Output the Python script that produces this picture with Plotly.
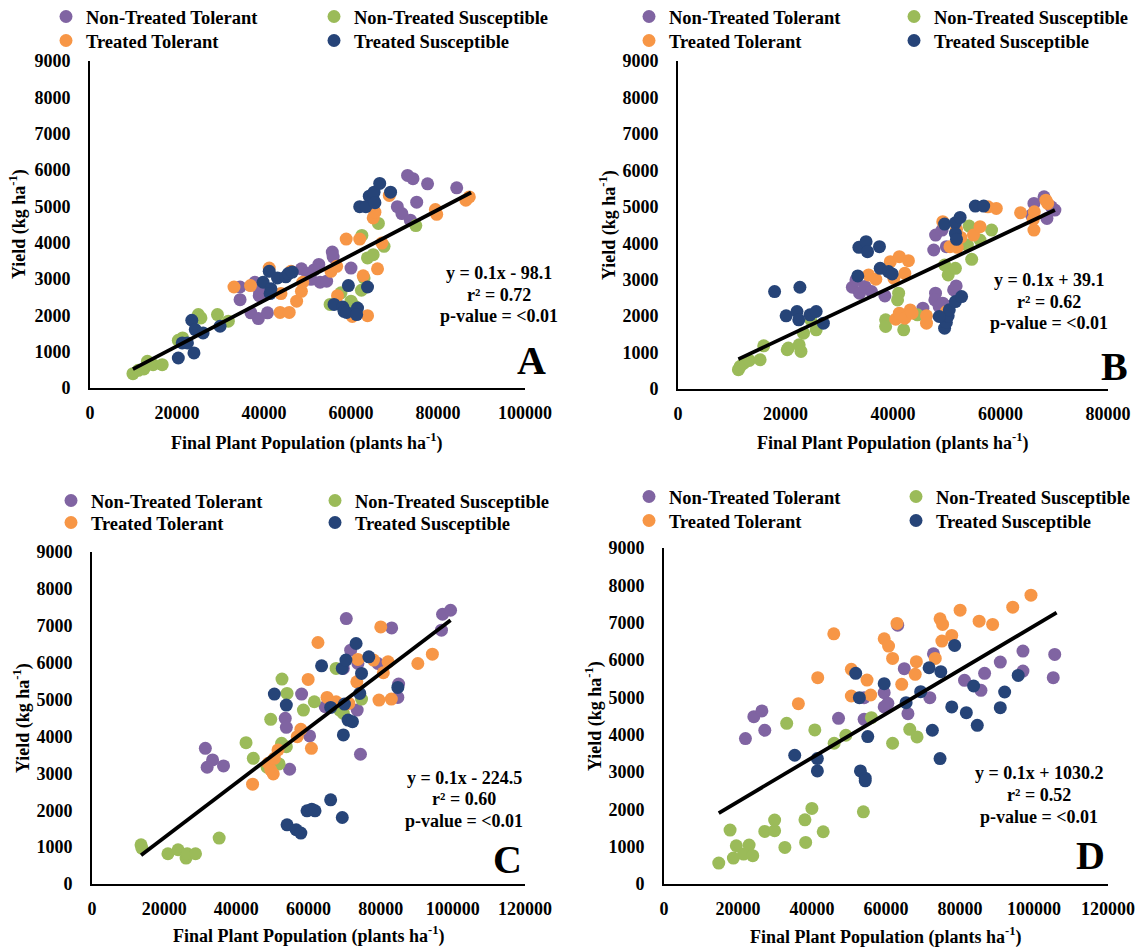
import plotly.graph_objects as go

W, H = 1135, 951

# ---------------- DATA ----------------
series_names = ["Non-Treated Tolerant", "Non-Treated Susceptible", "Treated Tolerant", "Treated Susceptible"]
series_colors = ["#8064A2", "#9BBB59", "#F79646", "#264478"]

# Panel A
A_ntt_x = [73000, 74250, 77600, 84300, 75100, 70650, 71700, 73650, 55700, 55900, 60000, 52600, 52900, 54400, 50800, 48600, 34500, 34500, 37900, 38900, 37000, 38700, 40800, 39000, 50000, 51500]
A_ntt_y = [5850, 5760, 5620, 5510, 5115, 4990, 4800, 4620, 3740, 3610, 3300, 3400, 2910, 2940, 2990, 3280, 2780, 2430, 2910, 2540, 2070, 1910, 2070, 2650, 3150, 3250]
A_nts_x = [9870, 11100, 12400, 13200, 14500, 16600, 20300, 21300, 24900, 25500, 29300, 31800, 55200, 57700, 60000, 60900, 62500, 63800, 65100, 66300, 67600, 74900, 62400, 63000]
A_nts_y = [395, 487, 523, 735, 643, 643, 1313, 1377, 2020, 1930, 2020, 1840, 2300, 2620, 2390, 2250, 4200, 3580, 3670, 4530, 3900, 4470, 2690, 3030]
A_tt_x = [33100, 36900, 41200, 43900, 43700, 45800, 47500, 48600, 48900, 46200, 55400, 56700, 56900, 58900, 62000, 60300, 63800, 62800, 66100, 65100, 65500, 67100, 68800, 79400, 79700, 86400, 87200]
A_tt_y = [2780, 2820, 3300, 2600, 2080, 2080, 2390, 2660, 2910, 3210, 3210, 3350, 2540, 4100, 4100, 1970, 1990, 3090, 3280, 4680, 4840, 3990, 5300, 4910, 4780, 5170, 5260]
A_ts_x = [20300, 23900, 21200, 22400, 23400, 24200, 26000, 29900, 39800, 41200, 41600, 41400, 43100, 45000, 45600, 46500, 59400, 56100, 58100, 58400, 59000, 61500, 61300, 63800, 62000, 63400, 64200, 65100, 65300, 65500, 66600, 69100]
A_ts_y = [826, 964, 1240, 1240, 1864, 1607, 1515, 1700, 2910, 3210, 2730, 2600, 3030, 3060, 3150, 3190, 2820, 2300, 2230, 2110, 2080, 2200, 2020, 2780, 4990, 4990, 5280, 5210, 5390, 5100, 5630, 5390]
A_trend_x = [9870, 87600]
A_trend_y = [520, 5380]

# Panel B
B_ntt_x = [32440, 33110, 33780, 34790, 36000, 38490, 47580, 47930, 49130, 49930, 47910, 47780, 48590, 49260, 50270, 45560, 51280, 51750, 66220, 68100, 68640, 69450, 70120, 65750]
B_ntt_y = [2792, 2993, 2628, 2810, 2673, 2555, 3814, 4224, 4361, 3905, 2628, 2445, 2263, 2354, 2263, 2217, 2719, 2829, 5091, 5274, 4680, 5000, 4909, 4772]
B_nts_x = [11240, 11570, 12250, 13260, 15280, 15950, 20320, 20530, 22540, 22880, 23350, 25710, 24700, 38630, 38630, 41050, 40850, 41990, 44550, 49600, 50270, 51610, 53840, 54170, 54640, 56190, 58340]
B_nts_y = [530, 620, 710, 785, 803, 1186, 1077, 1122, 1213, 1031, 1533, 1624, 1900, 1898, 1715, 2628, 2445, 1624, 2035, 3403, 3130, 3312, 3950, 4470, 3558, 4088, 4361]
B_tt_x = [35460, 36810, 39500, 40170, 41180, 42870, 42200, 40510, 41180, 42190, 43200, 43540, 46230, 46230, 49260, 50600, 51810, 51950, 52620, 54980, 56190, 57670, 59220, 63730, 66080, 66220, 66290, 68440, 68780, 49930]
B_tt_y = [3130, 3011, 3495, 3038, 3631, 3522, 3175, 1916, 2080, 1943, 2170, 2080, 2007, 1807, 4590, 3905, 4380, 3887, 4160, 4224, 4453, 5000, 4954, 4836, 4653, 4361, 4863, 5182, 5091, 2126]
B_ts_x = [17970, 22680, 20120, 22140, 22470, 24560, 25710, 27050, 33450, 33650, 34990, 35260, 37480, 37620, 39170, 39840, 49600, 51610, 52490, 51610, 51810, 49600, 49930, 50270, 50470, 48590, 51610, 52760, 55320, 56870]
B_ts_y = [2673, 2792, 2007, 2126, 1898, 2035, 2126, 1807, 3102, 3887, 4042, 3768, 3905, 3312, 3221, 3157, 4526, 4562, 4708, 4270, 4106, 1670, 1825, 2007, 2172, 1989, 2400, 2537, 5018, 5018]
B_trend_x = [11240, 70120]
B_trend_y = [820, 4910]

# Panel C
C_ntt_x = [31410, 33420, 31910, 36440, 53560, 53860, 54770, 58090, 60300, 70470, 69660, 71680, 73690, 73490, 74400, 79230, 83050, 84970, 84760, 96850, 97150, 99370, 64630]
C_ntt_y = [3679, 3363, 3165, 3201, 4491, 4247, 3111, 5149, 4013, 7196, 5843, 6339, 5978, 4716, 3517, 5978, 6943, 5419, 5059, 6880, 7313, 7421, 4806]
C_nts_x = [13590, 13800, 21040, 23860, 26070, 26380, 28690, 35240, 42690, 44700, 49530, 48530, 51850, 52550, 52650, 54060, 53860, 58590, 61610, 67650, 68650, 69660, 74700]
C_nts_y = [1064, 974, 820, 929, 703, 820, 820, 1244, 3832, 3408, 4463, 3165, 3255, 3814, 5554, 5167, 3724, 4716, 4941, 5843, 4716, 4626, 5013]
C_tt_x = [44500, 48830, 49530, 50240, 50540, 51550, 56880, 57880, 60810, 59900, 62620, 65140, 67650, 71180, 73390, 73690, 78020, 80030, 80740, 82050, 79530, 82950, 90300, 94330]
C_tt_y = [2705, 3273, 3093, 2985, 3408, 3634, 3995, 4193, 3679, 5545, 6547, 5059, 4941, 4896, 5482, 6087, 6069, 6970, 5726, 6024, 4986, 5013, 5978, 6231]
C_ts_x = [50540, 53860, 54060, 56580, 57880, 59590, 60900, 61810, 66140, 69360, 63630, 66140, 69660, 69360, 70370, 69960, 70970, 72180, 73190, 74200, 74700, 76710, 84760]
C_ts_y = [5149, 4851, 1605, 1470, 1380, 1984, 2029, 1984, 2281, 1803, 5915, 4788, 4040, 5843, 6069, 4878, 4445, 4400, 6519, 5167, 5708, 6159, 5329]
C_trend_x = [13590, 99370]
C_trend_y = [780, 7150]

# Panel D
D_ntt_x = [22010, 24280, 26450, 27240, 47170, 54080, 54080, 59510, 59510, 60500, 63160, 64940, 65930, 71850, 72830, 81220, 85660, 86650, 90890, 97010, 97010, 105200, 105600]
D_ntt_y = [3895, 4483, 4635, 4118, 4439, 4412, 4991, 5125, 4742, 4840, 6934, 5767, 4563, 4991, 6168, 5455, 5187, 5642, 5945, 5704, 6239, 5526, 6150]
D_nts_x = [14800, 17860, 18750, 19540, 21510, 23000, 23980, 27240, 29900, 29900, 32670, 33160, 38090, 38290, 39970, 40760, 43030, 45990, 49150, 53880, 56050, 61780, 66420, 68390]
D_nts_y = [561, 1444, 695, 1025, 802, 1043, 758, 1408, 1426, 1711, 980, 4305, 1720, 1114, 2023, 4127, 1399, 3770, 3984, 1934, 4456, 3770, 4144, 3939]
D_tt_x = [36320, 41550, 45890, 50630, 50630, 54870, 55860, 59510, 60690, 61780, 62970, 64250, 67900, 68200, 73320, 74610, 75300, 75100, 77770, 80030, 85170, 88820, 94250, 99180]
D_tt_y = [4831, 5526, 6702, 5749, 5036, 5463, 5062, 6569, 6373, 6043, 6979, 5348, 5615, 5954, 6043, 7103, 6952, 6506, 6658, 7335, 7041, 6952, 7415, 7736]
D_ts_x = [35330, 41450, 41450, 51810, 52800, 53090, 54380, 54380, 55070, 59510, 65430, 69370, 71650, 72530, 74810, 74610, 77770, 78550, 81710, 83690, 84670, 90890, 92070, 95730]
D_ts_y = [3449, 3360, 3030, 5642, 4991, 3030, 2834, 2763, 3948, 5365, 4857, 5152, 5793, 4118, 5686, 3360, 4742, 6390, 4590, 5303, 4251, 4724, 5143, 5588]
D_trend_x = [14800, 106100]
D_trend_y = [1900, 7270]

eq_A = ["y = 0.1x - 98.1", "r² = 0.72", "p-value = <0.01"]
eq_B = ["y = 0.1x + 39.1", "r² = 0.62", "p-value = <0.01"]
eq_C = ["y = 0.1x - 224.5", "r² = 0.60", "p-value = <0.01"]
eq_D = ["y = 0.1x + 1030.2", "r² = 0.52", "p-value = <0.01"]

x_title = "Final Plant Population (plants ha<sup>-1</sup>)"
y_title = "Yield (kg ha<sup>-1</sup>)"
y_ticks = list(range(0, 9001, 1000))

# ---------------- LAYOUT HELPERS ----------------
def px(x):
    return x / W

def py(y):
    return 1 - y / H

FONT = "Liberation Serif"

panels = [
    dict(name="A", data=[(A_ntt_x, A_ntt_y), (A_nts_x, A_nts_y), (A_tt_x, A_tt_y), (A_ts_x, A_ts_y)],
         trend=(A_trend_x, A_trend_y), eq=eq_A, xmax=100000,
         box=(90, 525, 61, 388), eqpos=(499, [273, 295, 316]), letter=(531, 360),
         ytitle=(18, 224), xtitle=(307, 442), leg=(46, 314, [17, 41])),
    dict(name="B", data=[(B_ntt_x, B_ntt_y), (B_nts_x, B_nts_y), (B_tt_x, B_tt_y), (B_ts_x, B_ts_y)],
         trend=(B_trend_x, B_trend_y), eq=eq_B, xmax=80000,
         box=(678, 1108, 61, 389), eqpos=(1049, [280, 302, 323]), letter=(1114, 366),
         ytitle=(608, 225), xtitle=(893, 442), leg=(629, 894, [17, 41])),
    dict(name="C", data=[(C_ntt_x, C_ntt_y), (C_nts_x, C_nts_y), (C_tt_x, C_tt_y), (C_ts_x, C_ts_y)],
         trend=(C_trend_x, C_trend_y), eq=eq_C, xmax=120000,
         box=(92, 525, 552, 884), eqpos=(464, [778, 799, 821]), letter=(507, 859),
         ytitle=(22, 718), xtitle=(309, 935), leg=(51, 315, [501, 523])),
    dict(name="D", data=[(D_ntt_x, D_ntt_y), (D_nts_x, D_nts_y), (D_tt_x, D_tt_y), (D_ts_x, D_ts_y)],
         trend=(D_trend_x, D_trend_y), eq=eq_D, xmax=120000,
         box=(664, 1108, 548, 884), eqpos=(1039, [773, 795, 817]), letter=(1090, 855),
         ytitle=(594, 716), xtitle=(886, 936), leg=(629, 896, [497, 521])),
]

fig = go.Figure()
annotations = []
layout_updates = {}

for i, p in enumerate(panels):
    ax = "" if i == 0 else str(i + 1)
    xref = "x" + ax
    yref = "y" + ax
    l, r, t, b = p["box"]
    leg_row1 = "legend" if i == 0 else "legend%d" % (2 * i + 1)
    leg_row2 = "legend%d" % (2 * i + 2)
    for k, (xs, ys) in enumerate(p["data"]):
        fig.add_trace(go.Scatter(
            x=xs, y=ys, mode="markers", name=series_names[k],
            marker=dict(color=series_colors[k], size=13, line=dict(width=0)),
            xaxis=xref, yaxis=yref, cliponaxis=False,
            legend=leg_row1 if k < 2 else leg_row2,
        ))
    fig.add_trace(go.Scatter(
        x=p["trend"][0], y=p["trend"][1], mode="lines",
        line=dict(color="black", width=3.8), showlegend=False,
        xaxis=xref, yaxis=yref, cliponaxis=False,
    ))
    axis_common = dict(showline=True, linecolor="black", linewidth=2, ticks="",
                       showgrid=False, zeroline=False, tickformat="d", automargin=False,
                       tickfont=dict(family=FONT, size=18, color="black", weight="bold"))
    layout_updates["xaxis" + ax] = dict(
        domain=[px(l), px(r)], range=[0, p["xmax"]], anchor=yref,
        tickvals=list(range(0, p["xmax"] + 1, 20000)), ticklabelstandoff=7, **axis_common)
    layout_updates["yaxis" + ax] = dict(
        domain=[py(b), py(t)], range=[0, 9000], anchor=xref,
        tickvals=y_ticks, ticklabelstandoff=14, **axis_common)
    # legends (one per row)
    lx1, lx2, rows = p["leg"]
    for name, ry in ((leg_row1, rows[0]), (leg_row2, rows[1])):
        layout_updates[name] = dict(
            orientation="h", x=px(lx1), xanchor="left", y=py(ry), yanchor="middle",
            entrywidth=lx2 - lx1 - 45, entrywidthmode="pixels",
            font=dict(family=FONT, size=18.5, color="black", weight="bold"),
            bgcolor="rgba(0,0,0,0)", borderwidth=0, itemwidth=30,
            traceorder="normal", itemclick=False, itemdoubleclick=False,
        )
    # equation text
    ex, eys = p["eqpos"]
    for txt, ey in zip(p["eq"], eys):
        annotations.append(dict(text=txt, x=px(ex), y=py(ey), xref="paper", yref="paper",
                                xanchor="center", yanchor="middle", showarrow=False,
                                font=dict(family=FONT, size=18, color="black", weight="bold")))
    annotations.append(dict(text=p["name"], x=px(p["letter"][0]), y=py(p["letter"][1]),
                            xref="paper", yref="paper", xanchor="center", yanchor="middle",
                            showarrow=False,
                            font=dict(family=FONT, size=40, color="black", weight="bold")))
    annotations.append(dict(text=y_title, x=px(p["ytitle"][0]), y=py(p["ytitle"][1]),
                            xref="paper", yref="paper", xanchor="center", yanchor="middle",
                            textangle=-90, showarrow=False,
                            font=dict(family=FONT, size=18, color="black", weight="bold")))
    annotations.append(dict(text=x_title, x=px(p["xtitle"][0]), y=py(p["xtitle"][1]),
                            xref="paper", yref="paper", xanchor="center", yanchor="middle",
                            showarrow=False,
                            font=dict(family=FONT, size=18, color="black", weight="bold")))

fig.update_layout(
    width=W, height=H, margin=dict(l=0, r=0, t=0, b=0, pad=0, autoexpand=False),
    paper_bgcolor="white", plot_bgcolor="white",
    annotations=annotations, hovermode=False,
    **layout_updates,
)

fig.write_html(
    "out.html",
    config={"displayModeBar": False},
    post_script="document.body.style.margin='0';document.body.style.overflow='hidden';",
)
